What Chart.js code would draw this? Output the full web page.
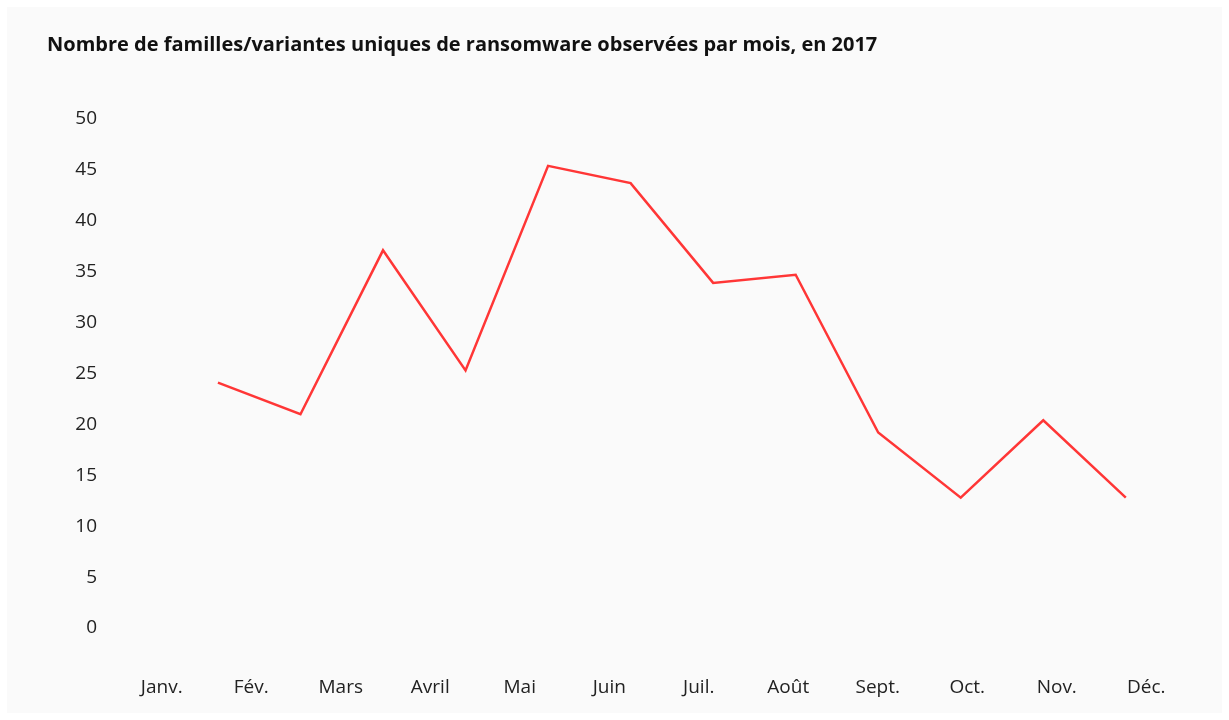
<!DOCTYPE html>
<html lang="fr">
<head>
<meta charset="utf-8">
<title>Ransomware 2017</title>
<script src="https://cdn.jsdelivr.net/npm/chart.js@4"></script>
<style>
  html, body { margin: 0; padding: 0; background: #ffffff; }
  #wrap { position: absolute; left: 7px; top: 7px; width: 1215px; height: 706px; background: #fafafa; }
</style>
</head>
<body>
<div id="wrap"><canvas id="ransomwareCanvas" width="1215" height="706"></canvas></div>
<script>
// mois affichés sous l'axe
const months = ['Janv.', 'Fév.', 'Mars', 'Avril', 'Mai', 'Juin', 'Juil.', 'Août', 'Sept.', 'Oct.', 'Nov.', 'Déc.'];
// familles/variantes uniques observées chaque mois
const families = [24.1, 21, 37.1, 25.3, 45.4, 43.7, 33.9, 34.7, 19.2, 12.8, 20.4, 12.8];
const yTicks = [0, 5, 10, 15, 20, 25, 30, 35, 40, 45, 50];

const fontName = "'Open Sans', Lato, sans-serif";

const points = families.map((v, i) => ({ x: i, y: v }));

let myChart = new Chart(document.getElementById('ransomwareCanvas').getContext('2d'), {
    type: 'line',
    data: {
        labels: months,
        datasets: [{
            label: 'Familles/variantes',
            xAxisID: 'pts',
            data: points,
            borderColor: '#ff3636',
            borderWidth: 2.5,
            pointRadius: 0,
            tension: 0,
            fill: false
        }]
    },
    options: {
        responsive: false,
        animation: false,
        layout: { padding: { left: 40, right: 31, top: 0, bottom: 13 } },
        plugins: {
            legend: { display: false },
            tooltip: { enabled: false },
            title: {
                display: true,
                align: 'start',
                text: 'Nombre de familles/variantes uniques de ransomware observées par mois, en 2017',
                color: '#111111',
                font: { family: fontName, size: 20, weight: 'bold' },
                padding: { top: 26, bottom: 62 }
            }
        },
        scales: {
            x: {
                type: 'category',
                offset: true,
                afterFit: scale => { scale.height = 72; },
                grid: { display: false, drawTicks: false },
                border: { display: false },
                ticks: { color: '#222222', padding: 48.6, font: { family: fontName, size: 19 }, maxRotation: 0 }
            },
            pts: {
                type: 'linear',
                display: false,
                min: -1.223,
                max: 11.79
            },
            y: {
                min: 0,
                max: 50,
                afterFit: scale => { scale.width = 70; },
                afterBuildTicks: scale => { scale.ticks = yTicks.map(v => ({ value: v })); },
                grid: { display: false, drawTicks: false },
                border: { display: false },
                ticks: { color: '#222222', padding: 20, font: { family: fontName, size: 19 } }
            }
        }
    }
});
</script>
</body>
</html>
